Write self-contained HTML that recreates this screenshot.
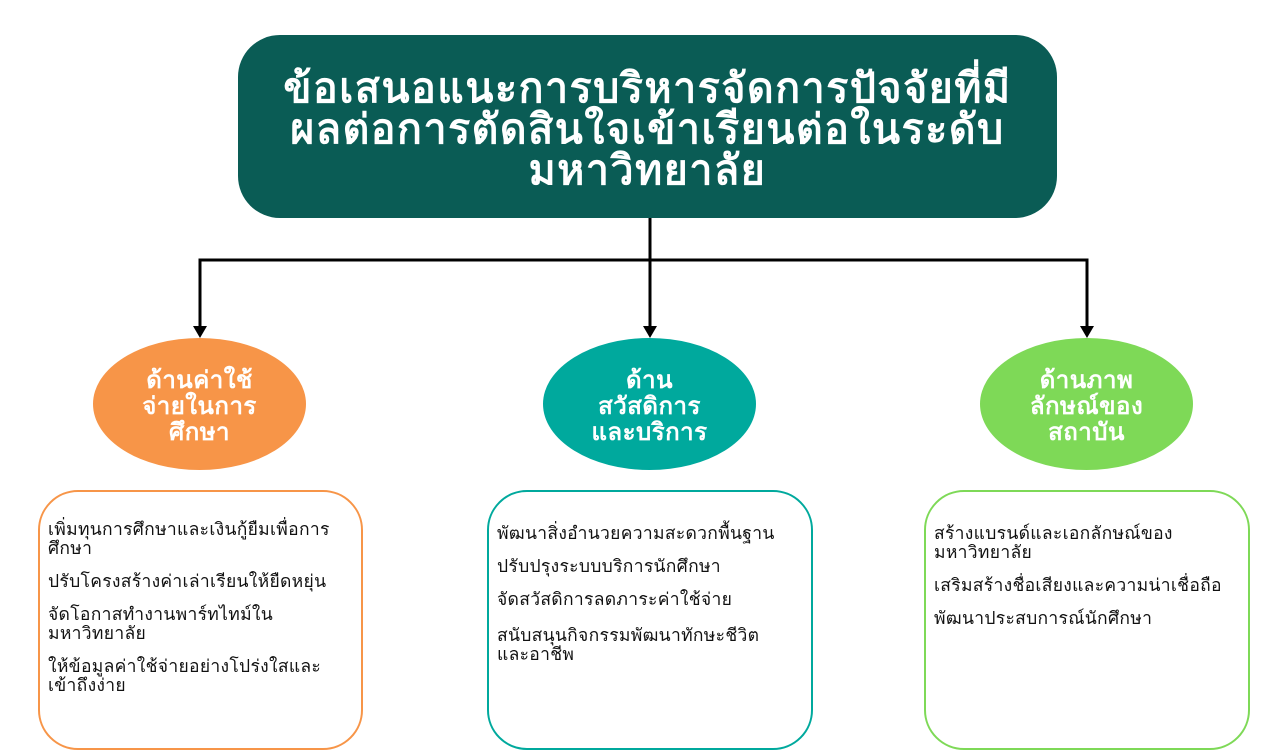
<!DOCTYPE html>
<html><head><meta charset="utf-8"><style>
body{margin:0;width:1280px;height:720px;background:#fff;position:relative;overflow:hidden;font-family:"Liberation Sans","DejaVu Sans",sans-serif}
.top{position:absolute;left:238px;top:35px;width:819px;height:183px;background:#0a5c55;border-radius:42px;color:#fff;font-weight:bold;font-size:41px;letter-spacing:1.6px;line-height:41px;text-align:center;display:flex;align-items:center;justify-content:center;padding-top:5px;box-sizing:border-box}
.c{position:absolute;width:213px;height:132px;border-radius:50%;color:#fff;font-weight:bold;font-size:24px;letter-spacing:0.5px;line-height:26px;text-align:center;display:flex;align-items:center;justify-content:center;top:338px;padding-top:6px;box-sizing:border-box}
.b{position:absolute;top:490px;height:260px;border:2.5px solid;border-radius:40px;box-sizing:border-box;padding:28px 8px 0 8px;font-size:17.5px;letter-spacing:0.3px;line-height:19px;color:#111}
.b p{margin:0 0 14px 0}
</style></head><body>
<div class="top">ข้อเสนอแนะการบริหารจัดการปัจจัยที่มี<br>ผลต่อการตัดสินใจเข้าเรียนต่อในระดับ<br>มหาวิทยาลัย</div>
<svg width="1280" height="720" style="position:absolute;left:0;top:0">
<g stroke="#000" stroke-width="3" fill="none">
<line x1="650" y1="218" x2="650" y2="328"/>
<polyline points="200,328 200,260 1087,260 1087,328"/>
</g>
<g fill="#000">
<polygon points="193,326 207,326 200,338"/>
<polygon points="643,326 657,326 650,338"/>
<polygon points="1080,326 1094,326 1087,338"/>
</g>
</svg>
<div class="c" style="left:93px;background:#f79548">ด้านค่าใช้<br>จ่ายในการ<br>ศึกษา</div>
<div class="c" style="left:543px;background:#00a99d">ด้าน<br>สวัสดิการ<br>และบริการ</div>
<div class="c" style="left:980px;background:#7ed957">ด้านภาพ<br>ลักษณ์ของ<br>สถาบัน</div>
<div class="b" style="left:38px;width:325px;border-color:#f79548">
<p>เพิ่มทุนการศึกษาและเงินกู้ยืมเพื่อการ<br>ศึกษา</p>
<p>ปรับโครงสร้างค่าเล่าเรียนให้ยืดหยุ่น</p>
<p>จัดโอกาสทำงานพาร์ทไทม์ใน<br>มหาวิทยาลัย</p>
<p>ให้ข้อมูลค่าใช้จ่ายอย่างโปร่งใสและ<br>เข้าถึงง่าย</p>
</div>
<div class="b" style="left:487px;width:326px;border-color:#00a99d;padding-top:32px">
<p>พัฒนาสิ่งอำนวยความสะดวกพื้นฐาน</p>
<p>ปรับปรุงระบบบริการนักศึกษา</p>
<p>จัดสวัสดิการลดภาระค่าใช้จ่าย</p>
<p style="margin-top:17px">สนับสนุนกิจกรรมพัฒนาทักษะชีวิต<br>และอาชีพ</p>
</div>
<div class="b" style="left:924px;width:326px;border-color:#7ed957;padding-top:32px">
<p>สร้างแบรนด์และเอกลักษณ์ของ<br>มหาวิทยาลัย</p>
<p>เสริมสร้างชื่อเสียงและความน่าเชื่อถือ</p>
<p>พัฒนาประสบการณ์นักศึกษา</p>
</div>
</body></html>
